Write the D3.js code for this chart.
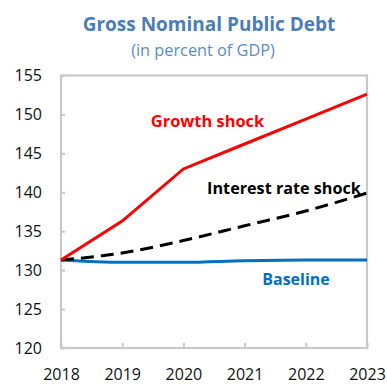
<!DOCTYPE html>
<html>
<head>
<meta charset="utf-8">
<script src="https://cdn.jsdelivr.net/npm/d3@7"></script>
<style>
  html, body { margin: 0; padding: 0; background: #fff; }
  svg { display: block; font-family: "Open Sans", "Noto Sans", sans-serif; }
</style>
</head>
<body>
<svg id="chart" width="387" height="384"></svg>
<script>
// Projection years and scenario paths (percent of GDP)
const years = [2018, 2019, 2020, 2021, 2022, 2023];
const baseline = [131.3, 131.0, 131.0, 131.2, 131.3, 131.3];
const growthShock = [131.3, 136.3, 143.0, 146.2, 149.4, 152.6];
const interestRateShock = [131.3, 132.2, 133.8, 135.7, 137.6, 139.9];
const yTicks = [120, 125, 130, 135, 140, 145, 150, 155];

const svg = d3.select("#chart");
const frameColor = "#c8c8c8";

const x = d3.scaleLinear().domain([2018, 2023]).range([61, 367]);
const y = d3.scaleLinear().domain([120, 155]).range([348, 75.5]);

// Title block
svg.append("text")
  .attr("x", 209).attr("y", 31)
  .attr("text-anchor", "middle")
  .attr("font-size", 19).attr("font-weight", "bold")
  .attr("fill", "#4a7db8")
  .text("Gross Nominal Public Debt");
svg.append("text")
  .attr("x", 203).attr("y", 56)
  .attr("text-anchor", "middle")
  .attr("font-size", 16.3)
  .attr("fill", "#5b8cc4")
  .text("(in percent of GDP)");

// Plot frame
svg.append("rect")
  .attr("x", x(2018)).attr("y", y(155))
  .attr("width", x(2023) - x(2018)).attr("height", y(120) - y(155))
  .attr("fill", "none").attr("stroke", frameColor).attr("stroke-width", 2.2);

// Y axis: inward ticks, labels on the left
const yAxis = d3.axisRight(y).tickValues(yTicks).tickSize(4).tickFormat(d3.format("d"));
const gy = svg.append("g").attr("transform", `translate(${x(2018)},0)`).call(yAxis);
gy.select(".domain").remove();
gy.selectAll(".tick line").attr("stroke", frameColor).attr("stroke-width", 2);
gy.selectAll(".tick text")
  .attr("x", -19).attr("text-anchor", "end")
  .attr("font-size", 16).attr("font-family", "'Open Sans', sans-serif")
  .attr("fill", "#111");

// X axis: ticks pointing up into the plot
const xAxis = d3.axisTop(x).tickValues(years).tickSize(5).tickFormat(d3.format("d"));
const gx = svg.append("g").attr("transform", `translate(0,${y(120)})`).call(xAxis);
gx.select(".domain").remove();
gx.selectAll(".tick line").attr("stroke", frameColor).attr("stroke-width", 2);
gx.selectAll(".tick text")
  .attr("y", 32).attr("dy", 0)
  .attr("font-size", 16).attr("font-family", "'Open Sans', sans-serif")
  .attr("fill", "#111");

// Scenario lines
const smooth = d3.line().x((d, i) => x(years[i])).y(d => y(d)).curve(d3.curveMonotoneX);
const straight = d3.line().x((d, i) => x(years[i])).y(d => y(d));

svg.append("path").datum(baseline)
  .attr("d", smooth).attr("fill", "none")
  .attr("stroke", "#0070c0").attr("stroke-width", 3);
svg.append("path").datum(interestRateShock)
  .attr("d", smooth).attr("fill", "none")
  .attr("stroke", "#000").attr("stroke-width", 3)
  .attr("stroke-dasharray", "13,7");
svg.append("path").datum(growthShock)
  .attr("d", straight).attr("fill", "none")
  .attr("stroke", "#ff0000").attr("stroke-width", 3);

// Series labels
svg.append("text")
  .attr("x", 207.5).attr("y", 127).attr("text-anchor", "middle")
  .attr("font-size", 16.4).attr("font-weight", "bold").attr("fill", "#ff0000")
  .text("Growth shock");
svg.append("text")
  .attr("x", 284).attr("y", 194).attr("text-anchor", "middle")
  .attr("font-size", 16.2).attr("font-weight", "bold").attr("fill", "#000")
  .text("Interest rate shock");
svg.append("text")
  .attr("x", 296).attr("y", 285).attr("text-anchor", "middle")
  .attr("font-size", 16).attr("font-weight", "bold").attr("fill", "#0070c0")
  .text("Baseline");
</script>
</body>
</html>
